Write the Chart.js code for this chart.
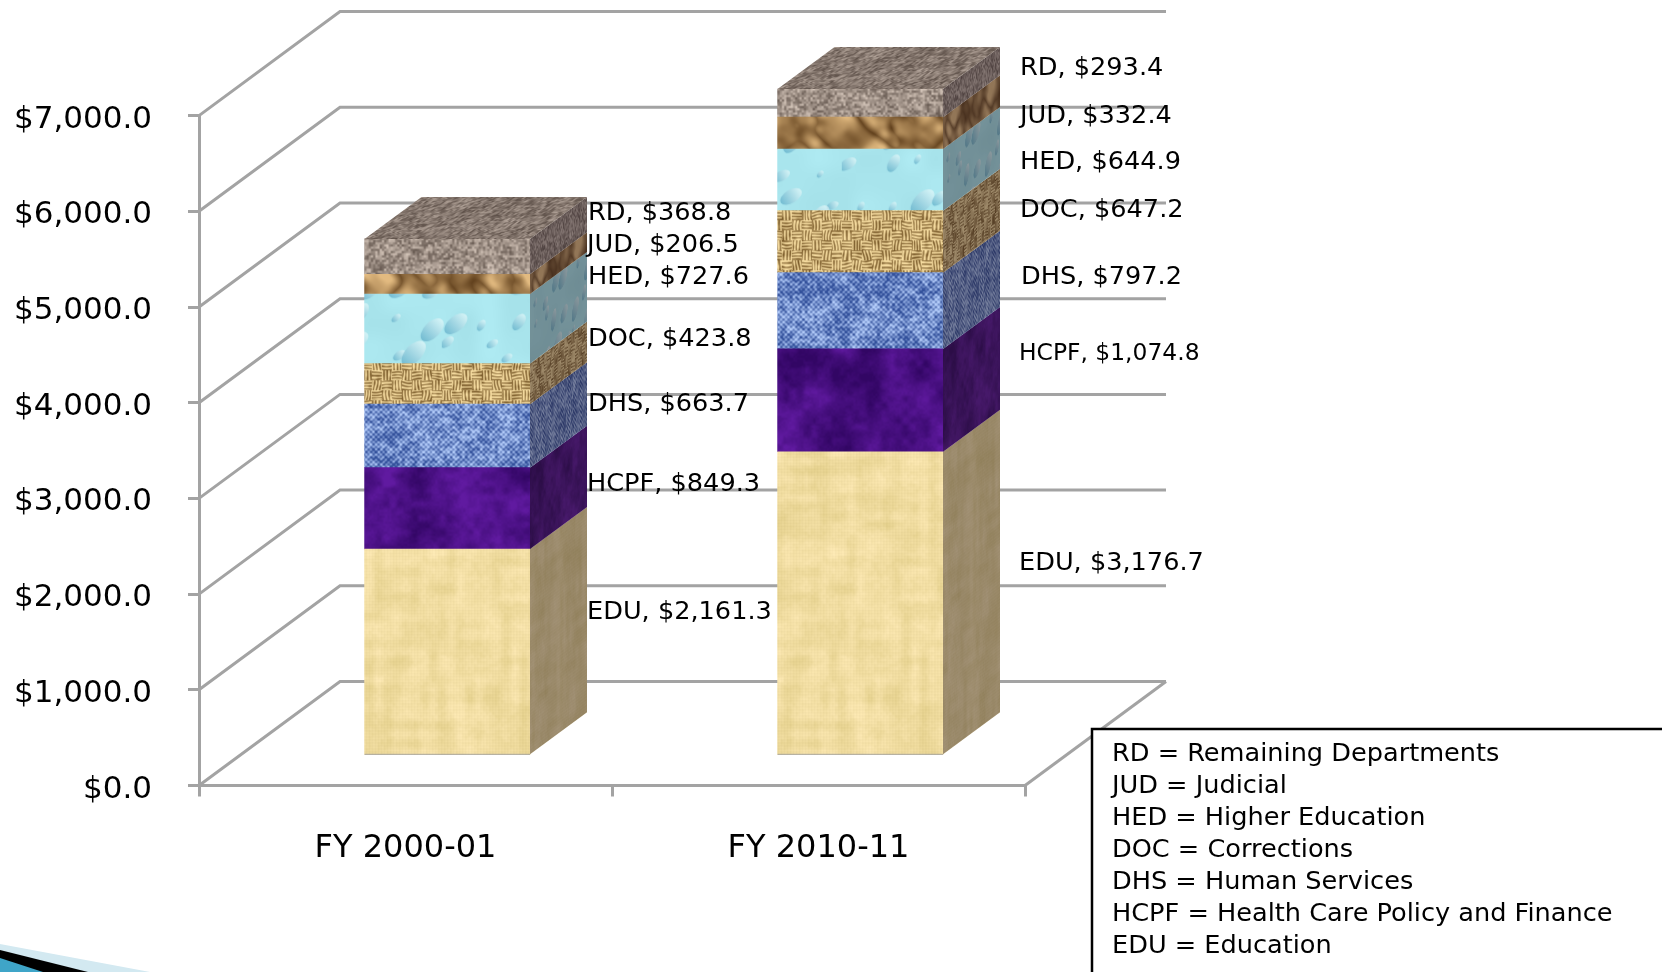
<!DOCTYPE html>
<html lang="en">
<head>
<meta charset="UTF-8">
<title>General Fund by Department</title>
<script src="https://cdn.jsdelivr.net/npm/chart.js"></script>
<style>
  html, body { margin: 0; padding: 0; background: #fff; overflow: hidden; }
  canvas { display: block; }
</style>
</head>
<body>
<canvas id="chart" width="1662" height="972"></canvas>
<script>
// values, bottom of the stack first
const categories = ['FY 2000-01', 'FY 2010-11'];
const codes = ['EDU', 'HCPF', 'DHS', 'DOC', 'HED', 'JUD', 'RD'];
const edu = [2161.3, 3176.7];
const hcpf = [849.3, 1074.8];
const dhs = [663.7, 797.2];
const doc = [423.8, 647.2];
const hed = [727.6, 644.9];
const jud = [206.5, 332.4];
const rd = [368.8, 293.4];
const legendLines = [
  'RD = Remaining Departments',
  'JUD = Judicial',
  'HED = Higher Education',
  'DOC = Corrections',
  'DHS = Human Services',
  'HCPF = Health Care Policy and Finance',
  'EDU = Education'
];

// label placement, one row per category, same order as codes
const labelX = [[587, 587, 588, 588, 588, 587, 588], [1019, 1019, 1021, 1020, 1020, 1020, 1020]];
const labelY = [[612.5, 484.5, 404.5, 339.5, 277.5, 245.5, 213.5], [563.5, 353.5, 277.5, 210.5, 162.5, 116.5, 68.5]];

const GRID = '#a3a3a3';
const FONT = '"DejaVu Sans"';
// wall depth of the 3D box and of the bars
const wall = { dx: 141, dy: 104 };
const barDepth = { dx: 57, dy: 42 };
const barShift = { x: 41.8, y: -29.7 };

// ---- textures, all of them tile over TILE pixels ----
const TILE = 400;
function hash(x, y, s) {
  const v = Math.sin(x * 127.1 + y * 311.7 + s * 74.7) * 43758.5453;
  return v - Math.floor(v);
}
function vnoise(x, y, sx, sy, s) {
  const px = Math.max(1, Math.round(TILE / sx)), py = Math.max(1, Math.round(TILE / sy));
  const fx = x / TILE * px, fy = y / TILE * py;
  const ix = Math.floor(fx), iy = Math.floor(fy);
  let tx = fx - ix, ty = fy - iy;
  tx = tx * tx * (3 - 2 * tx); ty = ty * ty * (3 - 2 * ty);
  const x0 = ((ix % px) + px) % px, x1 = (x0 + 1) % px;
  const y0 = ((iy % py) + py) % py, y1 = (y0 + 1) % py;
  const a = hash(x0, y0, s), b = hash(x1, y0, s), c = hash(x0, y1, s), d = hash(x1, y1, s);
  return (a + (b - a) * tx) * (1 - ty) + (c + (d - c) * tx) * ty;
}
function mix(a, b, t) {
  t = Math.max(0, Math.min(1, t));
  return [a[0] + (b[0] - a[0]) * t, a[1] + (b[1] - a[1]) * t, a[2] + (b[2] - a[2]) * t];
}
function makeTexture(fn, extra) {
  const c = document.createElement('canvas');
  c.width = c.height = TILE;
  const g = c.getContext('2d');
  const img = g.createImageData(TILE, TILE);
  for (let y = 0; y < TILE; y++) {
    for (let x = 0; x < TILE; x++) {
      const p = fn(x, y), i = (y * TILE + x) * 4;
      img.data[i] = p[0]; img.data[i + 1] = p[1]; img.data[i + 2] = p[2]; img.data[i + 3] = 255;
    }
  }
  g.putImageData(img, 0, 0);
  if (extra) extra(g);
  return g.createPattern(c, 'repeat');
}

const textures = {
  EDU: makeTexture((x, y) => {
    const w = Math.sin(x * 2.089) * 3 + Math.sin(y * 2.089) * 3;
    const n = vnoise(x, y, 9, 36, 1) * 14 - 7 + vnoise(x, y, 36, 9, 2) * 12 - 6 + vnoise(x, y, 3, 3, 3) * 6 - 3;
    return [240 + w + n, 220 + w + n, 160 + w + n * 1.6];
  }),
  HCPF: makeTexture((x, y) => {
    const n = vnoise(x, y, 26, 26, 3) * 0.6 + vnoise(x, y, 7, 7, 4) * 0.3 + vnoise(x, y, 2, 2, 5) * 0.1;
    return mix([50, 6, 100], [96, 26, 160], n * 1.5 - 0.25);
  }),
  DHS: makeTexture((x, y) => {
    const cell = Math.sin(x * Math.PI / 2.5) * Math.sin(y * Math.PI / 2.5);
    const n = vnoise(x, y, 3, 3, 6) * 0.8 + vnoise(x, y, 16, 16, 7) * 0.4 + cell * 0.4 - 0.1;
    return mix([50, 80, 155], [180, 205, 250], n * 0.95);
  }),
  DOC: makeTexture((x, y) => {
    const gx = Math.sin((x + vnoise(x, y, 11, 11, 18) * 3) * Math.PI / 3.2);
    const gy = Math.sin((y + vnoise(x, y, 11, 11, 19) * 3) * Math.PI / 3.2);
    const over = (Math.floor(x / 10) + Math.floor(y / 10)) % 2 === 0 ? gx * gx : gy * gy;
    const n = over * 0.8 + vnoise(x, y, 4, 4, 8) * 0.45;
    return mix([110, 78, 30], [246, 220, 160], n);
  }),
  HED: makeTexture((x, y) => {
    const n = vnoise(x, y, 24, 24, 9) * 10 - 5;
    return [170 + n, 230 + n, 238 + n];
  }, (g) => {
    // droplets, laid out on a loose grid; drawn again at the far edge so they wrap
    const cells = 13, step = TILE / cells;
    for (let row = 0; row < cells; row++) {
      for (let col = 0; col < cells; col++) {
        const x = col * step + hash(col, row, 10) * step * 0.7;
        const y = row * step + hash(col, row, 11) * step * 0.7;
        const r = 3 + hash(col, row, 12) * 9;
        const rot = 0.5 + hash(col, row, 13) * 0.7;
        [[0, 0], [-TILE, 0], [0, -TILE], [-TILE, -TILE]].forEach(o => {
          g.save();
          g.translate(x + o[0], y + o[1]); g.rotate(rot);
          const grad = g.createLinearGradient(0, -r * 1.4, 0, r * 1.4);
          grad.addColorStop(0, 'rgba(235,252,252,0.7)');
          grad.addColorStop(1, 'rgba(90,170,198,0.7)');
          g.fillStyle = grad;
          g.beginPath(); g.ellipse(0, 0, r * 0.75, r * 1.35, 0, 0, Math.PI * 2); g.fill();
          g.restore();
        });
      }
    }
  }),
  JUD: makeTexture((x, y) => {
    const u = x + y, v = y - x;
    const ridge = Math.abs(vnoise(u, v, 36, 20, 14) - 0.5) * 2;
    const n = ridge * 0.9 + vnoise(u, v, 12, 12, 15) * 0.35 + 0.05;
    return mix([88, 56, 22], [226, 186, 128], n);
  }),
  RD: makeTexture((x, y) => {
    const n = vnoise(x, y, 2.2, 2.2, 16) * 0.8 + vnoise(x, y, 9, 9, 17) * 0.25;
    return mix([95, 82, 74], [215, 200, 188], n);
  })
};

const series = [edu, hcpf, dhs, doc, hed, jud, rd];

// ---- plugins ----
// nudge the tick labels to where the reference has them
const tickNudgePlugin = {
  id: 'tickNudge',
  beforeDraw(chart) {
    chart.scales.y.getLabelItems().forEach(item => {
      if (!item.nudged) { item.options.translation[1] += 4; item.nudged = true; }
    });
  }
};

// side walls, floor and back grid, behind the bars
const wallsPlugin = {
  id: 'walls',
  beforeDatasetsDraw(chart) {
    const { ctx, chartArea, scales } = chart;
    ctx.save();
    // bottom left ribbon
    ctx.fillStyle = '#d3e9f1';
    ctx.beginPath(); ctx.moveTo(0, 944); ctx.lineTo(150, 972); ctx.lineTo(0, 972); ctx.fill();
    ctx.fillStyle = '#000';
    ctx.beginPath(); ctx.moveTo(0, 950); ctx.lineTo(88, 972); ctx.lineTo(0, 972); ctx.fill();
    ctx.fillStyle = '#3fa5c8';
    ctx.beginPath(); ctx.moveTo(0, 958); ctx.lineTo(43, 972); ctx.lineTo(0, 972); ctx.fill();

    ctx.strokeStyle = GRID;
    ctx.lineWidth = 3;
    scales.y.ticks.forEach(t => {
      const y = scales.y.getPixelForValue(t.value);
      ctx.beginPath();
      ctx.moveTo(chartArea.left, y);
      ctx.lineTo(chartArea.left + wall.dx, y - wall.dy);
      ctx.lineTo(chartArea.right + wall.dx, y - wall.dy);
      ctx.stroke();
    });
    // right edge of the floor
    ctx.beginPath();
    ctx.moveTo(chartArea.right, chartArea.bottom);
    ctx.lineTo(chartArea.right + wall.dx, chartArea.bottom - wall.dy);
    ctx.stroke();
    ctx.restore();
    // the front faces are drawn by the library, moved back onto the floor
    ctx.save();
    ctx.translate(barShift.x, barShift.y);
  },
  afterDatasetsDraw(chart) {
    const { ctx } = chart;
    ctx.restore();
    // side and top faces from the same bar elements
    chart.data.datasets.forEach((ds, di) => {
      chart.getDatasetMeta(di).data.forEach(bar => {
        const right = bar.x + bar.width / 2 + barShift.x;
        const left = bar.x - bar.width / 2 + barShift.x;
        const top = bar.y + barShift.y;
        const bottom = bar.base + barShift.y;
        const h = bottom - top;
        ctx.save();
        ctx.beginPath();
        ctx.moveTo(right, top);
        ctx.lineTo(right + barDepth.dx, top - barDepth.dy);
        ctx.lineTo(right + barDepth.dx, bottom - barDepth.dy);
        ctx.lineTo(right, bottom);
        ctx.closePath();
        ctx.save();
        ctx.clip();
        ctx.transform(barDepth.dx / bar.width, -barDepth.dy / bar.width, 0, 1, right, top);
        ctx.fillStyle = ds.backgroundColor;
        ctx.fillRect(0, -2, bar.width + 2, h + 4);
        ctx.restore();
        ctx.fillStyle = 'rgba(35,25,30,0.42)';
        ctx.fill();
        ctx.restore();

        if (di === 0) {
          ctx.save();
          ctx.strokeStyle = 'rgba(150,150,150,0.8)';
          ctx.lineWidth = 1;
          ctx.beginPath();
          ctx.moveTo(left, bottom);
          ctx.lineTo(right, bottom);
          ctx.stroke();
          ctx.restore();
        }

        if (di === chart.data.datasets.length - 1) {
          ctx.save();
          ctx.beginPath();
          ctx.moveTo(left, top);
          ctx.lineTo(right, top);
          ctx.lineTo(right + barDepth.dx, top - barDepth.dy);
          ctx.lineTo(left + barDepth.dx, top - barDepth.dy);
          ctx.closePath();
          ctx.save();
          ctx.clip();
          ctx.transform(1, 0, barDepth.dx / 60, -barDepth.dy / 60, left, top);
          ctx.fillStyle = ds.backgroundColor;
          ctx.fillRect(-5, -5, bar.width + 10, 70);
          ctx.restore();
          ctx.fillStyle = 'rgba(50,35,30,0.22)';
          ctx.fill();
          ctx.restore();
        }
      });
    });
  }
};

// value labels beside the bars and the key box
const annotationPlugin = {
  id: 'annotations',
  afterDraw(chart) {
    const { ctx } = chart;
    ctx.save();
    ctx.fillStyle = '#000';
    ctx.textBaseline = 'middle';
    ctx.textAlign = 'left';
    categories.forEach((cat, c) => {
      codes.forEach((code, s) => {
        const txt = code + ', $' + series[s][c].toLocaleString('en-US', { minimumFractionDigits: 1 });
        ctx.font = (code === 'HCPF' && c === 1 ? '23.4px ' : '25.6px ') + FONT;
        ctx.fillText(txt, labelX[c][s], labelY[c][s]);
      });
    });
    // key box runs off the page on the right and at the bottom
    ctx.fillStyle = '#fff';
    ctx.fillRect(1092, 729, 580, 260);
    ctx.strokeStyle = '#000';
    ctx.lineWidth = 2.5;
    ctx.strokeRect(1092, 729, 580, 260);
    ctx.fillStyle = '#000';
    ctx.font = '25.6px ' + FONT;
    legendLines.forEach((line, i) => ctx.fillText(line, 1112, 754 + i * 32));
    ctx.restore();
  }
};

const datasets = codes.map((code, i) => ({
  label: code,
  data: series[i],
  backgroundColor: textures[code],
  borderWidth: 0,
  barThickness: 165.4,
  clip: false,
  stack: 'total'
}));

new Chart(document.getElementById('chart'), {
  type: 'bar',
  data: { labels: categories, datasets: datasets },
  plugins: [tickNudgePlugin, wallsPlugin, annotationPlugin],
  options: {
    responsive: false,
    animation: false,
    layout: { padding: { top: 115.6, right: 637, left: 0, bottom: 0 } },
    plugins: { legend: { display: false }, tooltip: { enabled: false } },
    scales: {
      x: {
        stacked: true,
        afterFit(scale) { scale.height = 186.5; },
        grid: { drawOnChartArea: false, color: GRID, lineWidth: 3, tickLength: 11 },
        border: { color: GRID, width: 3 },
        ticks: { color: '#000', font: { family: FONT, size: 32 }, padding: 33, maxRotation: 0 }
      },
      y: {
        stacked: true,
        min: 0,
        max: 7000,
        afterFit(scale) { scale.width = 199; },
        grid: { drawOnChartArea: false, color: GRID, lineWidth: 3, tickLength: 11 },
        border: { color: GRID, width: 3 },
        ticks: { color: '#000', stepSize: 1000, font: { family: FONT, size: 31 }, padding: 36,
          callback(v) { return '$' + v.toLocaleString('en-US', { minimumFractionDigits: 1 }); } }
      }
    }
  }
});
</script>
</body>
</html>
